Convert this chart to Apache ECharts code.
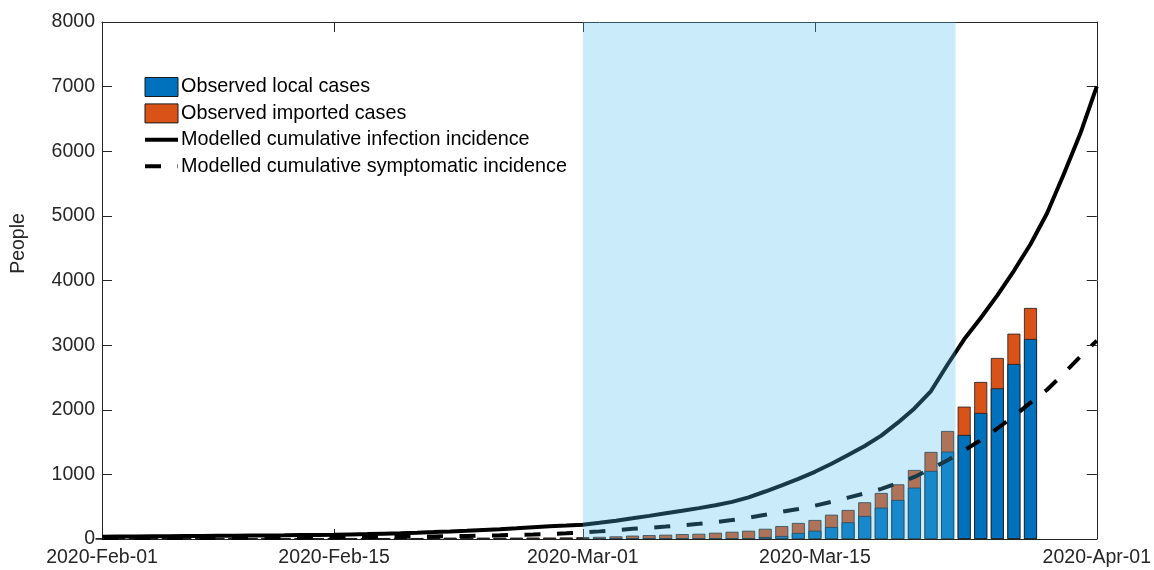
<!DOCTYPE html>
<html>
<head>
<meta charset="utf-8">
<script src="https://cdn.jsdelivr.net/npm/echarts@6/dist/echarts.min.js"></script>
<style>
html, body { margin: 0; padding: 0; background: #fff; }
#chart { width: 1154px; height: 570px; }
</style>
</head>
<body>
<div id="chart"></div>
<script>
// daily bars, 2020-02-01 .. 2020-03-28
var localCases = [
	0, 0, 0, 0, 0, 0, 0, 0, 0, 0,
	0, 0, 0, 0, 0, 0, 0, 0, 0, 0,
	0, 0, 0, 0, 0, 0, 0, 0, 1,
	2, 3, 4, 5, 6, 7, 8, 8, 8, 10,
	15, 31, 46, 93, 129, 186, 258, 356, 485, 604,
	795, 1053, 1352, 1610, 1950, 2331, 2708, 3095
];
var totalCases = [
	12, 12, 12, 13, 14, 15, 15, 15, 15, 15,
	15, 15, 15, 15, 15, 15, 15, 15, 15, 15,
	17, 22, 22, 22, 22, 22, 23, 23, 25,
	29, 33, 41, 52, 60, 66, 76, 81, 97, 112,
	128, 158, 200, 248, 294, 376, 449, 568, 712, 846,
	1068, 1347, 1671, 2048, 2430, 2801, 3177, 3575
];
// modelled curves, 2020-02-01 .. 2020-04-01
var infection = [
	35, 37, 39, 41, 43, 45, 47, 49, 51, 53,
	55, 57, 60, 63, 66, 71, 76, 83, 90, 98,
	107, 117, 128, 140, 152, 166, 181, 196, 208,
	221, 250, 283, 320, 358, 398, 437, 478, 522, 575,
	645, 735, 830, 930, 1040, 1165, 1300, 1440, 1600, 1800,
	2020, 2290, 2700, 3090, 3420, 3770, 4150, 4560, 5040, 5640,
	6270, 7004
];
var symptomatic = [
	14, 14, 15, 15, 16, 17, 17, 18, 19, 19,
	20, 21, 22, 23, 25, 27, 29, 31, 34, 37,
	40, 44, 48, 53, 58, 64, 71, 79, 88,
	100, 118, 138, 157, 174, 192, 212, 235, 262, 293,
	330, 375, 422, 465, 515, 575, 640, 705, 775, 865,
	960, 1085, 1220, 1371, 1530, 1710, 1900, 2110, 2310, 2560,
	2820, 3070
];
var tickDates = ['2020-02-01', '2020-02-15', '2020-03-01', '2020-03-15', '2020-04-01'];
var shadeFrom = '2020-03-01';
var shadeTo = '2020-03-23';   // shading runs to the middle of this day

var MONTHS = ['Jan', 'Feb', 'Mar', 'Apr', 'May', 'Jun', 'Jul', 'Aug', 'Sep', 'Oct', 'Nov', 'Dec'];
var DAY = 86400000;

function dayTime (i) {
	return Date.UTC(2020, 1, 1 + i);
}
function parseDay (s) {
	var p = s.split('-');
	return Date.UTC(+p[0], +p[1] - 1, +p[2]);
}
function pad2 (n) {
	return n < 10 ? '0' + n : '' + n;
}

// x is a value axis in ms, so the imported part is drawn as the full
// (total) bar and the local bar sits over its lower part
var localData = [], totalData = [], infData = [], symData = [];
for (var i = 0; i < totalCases.length; i++) {
	localData.push([dayTime(i), localCases[i]]);
	totalData.push([dayTime(i), totalCases[i]]);
}
for (var j = 0; j < infection.length; j++) {
	infData.push([dayTime(j), infection[j]]);
	symData.push([dayTime(j), symptomatic[j]]);
}
var ticks = tickDates.map(parseDay);

var FONT = '"Liberation Sans", Arial, Helvetica, sans-serif';
var AX = '#262626';
var HIDE = { color: 'rgba(0,0,0,0)', borderWidth: 0 };

var cc = echarts.init(document.getElementById('chart'));

var xBase = {
	type: 'value',
	min: ticks[0],
	max: ticks[ticks.length - 1],
	axisLine: { show: true, onZero: false, lineStyle: { color: AX, width: 1 } },
	axisTick: { show: true, inside: true, length: 10, customValues: ticks, lineStyle: { color: AX } },
	splitLine: { show: false }
};
var yBase = {
	type: 'value',
	min: 0,
	max: 8000,
	interval: 1000,
	axisLine: { show: true, lineStyle: { color: AX, width: 1 } },
	axisTick: { show: true, inside: true, length: 10, lineStyle: { color: AX } },
	splitLine: { show: false }
};

var op = {
	animation: false,
	backgroundColor: '#fff',
	textStyle: { fontFamily: FONT },
	grid: { left: 102, right: 53, top: 22, bottom: 31 },
	legend: {
		orient: 'vertical',
		left: 143,
		top: 77,
		padding: 0,
		itemWidth: 33,
		itemHeight: 19,
		itemGap: 6.4,
		textStyle: { fontFamily: FONT, fontSize: 19.8, color: '#000', padding: [0, 0, 0, -2] },
		data: [
			{ name: 'Observed local cases', icon: 'rect', itemStyle: { borderColor: '#1a1a1a', borderWidth: 1 } },
			{ name: 'Observed imported cases', icon: 'rect', itemStyle: { borderColor: '#1a1a1a', borderWidth: 1 } },
			{ name: 'Modelled cumulative infection incidence', itemStyle: HIDE, lineStyle: { width: 4 } },
			{ name: 'Modelled cumulative symptomatic incidence', itemStyle: HIDE, lineStyle: { width: 4 } }
		]
	},
	xAxis: [
		Object.assign({}, xBase, {
			position: 'bottom',
			axisLabel: {
				show: true,
				customValues: ticks,
				margin: 9,
				fontSize: 19.5,
				fontFamily: FONT,
				color: AX,
				hideOverlap: false,
				formatter: function (v) {
					var d = new Date(v);
					return d.getUTCFullYear() + '-' + MONTHS[d.getUTCMonth()] + '-' + pad2(d.getUTCDate());
				}
			}
		}),
		Object.assign({}, xBase, { position: 'top', axisLabel: { show: false } })
	],
	yAxis: [
		Object.assign({}, yBase, {
			position: 'left',
			name: 'People',
			nameLocation: 'middle',
			nameGap: 73,
			nameTextStyle: { fontSize: 19.5, fontFamily: FONT, color: AX, padding: [0, 0, 0, 74] },
			axisLabel: {
				margin: 7,
				fontSize: 19.5,
				fontFamily: FONT,
				color: AX,
				formatter: function (v) { return String(v); }
			}
		}),
		Object.assign({}, yBase, { position: 'right', axisLabel: { show: false } })
	],
	series: [
		{
			name: 'Observed imported cases',
			type: 'bar',
			barWidth: 13,
			barGap: '-100%',
			data: totalData,
			itemStyle: { color: '#D95319', borderColor: '#1a1a1a', borderWidth: 0.8 },
			z: 2
		},
		{
			name: 'Observed local cases',
			type: 'bar',
			barWidth: 13,
			barGap: '-100%',
			data: localData,
			itemStyle: { color: '#0072BD', borderColor: '#1a1a1a', borderWidth: 0.8 },
			z: 2
		},
		{
			name: 'Modelled cumulative infection incidence',
			type: 'line',
			symbol: 'none',
			data: infData,
			lineStyle: { color: '#000', width: 4 },
			itemStyle: { color: '#000' },
			z: 3
		},
		{
			name: 'Modelled cumulative symptomatic incidence',
			type: 'line',
			symbol: 'none',
			data: symData,
			lineStyle: { color: '#000', width: 4, type: [16, 16.5], cap: 'butt' },
			itemStyle: { color: '#000' },
			z: 3
		},
		{
			name: 'shade',
			type: 'line',
			data: [],
			z: 10,
			markArea: {
				silent: true,
				z: 10,
				itemStyle: { color: 'rgba(77,190,238,0.3)', borderWidth: 0 },
				data: [[{ xAxis: parseDay(shadeFrom) }, { xAxis: parseDay(shadeTo) + DAY * 0.48 }]]
			}
		}
	]
};

cc.setOption(op);
</script>
</body>
</html>
